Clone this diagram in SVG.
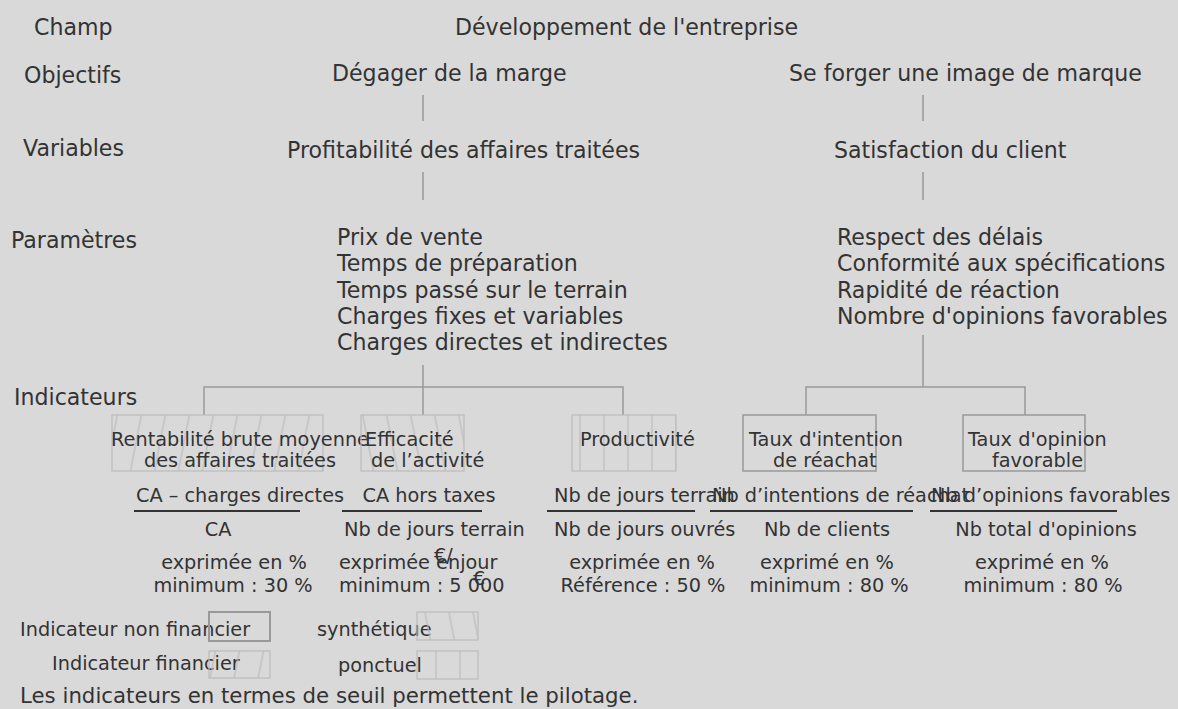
<svg xmlns="http://www.w3.org/2000/svg" width="1178" height="709" viewBox="0 0 1178 709">
<defs>
<style>
text{font-family:"DejaVu Sans","Liberation Sans",sans-serif;fill:#333}
.h{font-size:22.1px}
.s{font-size:19.3px}
.m{text-anchor:middle}
.c{stroke:#999;stroke-width:1.5;fill:none}
.f{stroke:#333;stroke-width:2}
.nf{fill:#d9d9d9;stroke:#999;stroke-width:1.5}
.hb{stroke:#bbb;stroke-width:1.2}
</style>
<pattern id="fwd" patternUnits="userSpaceOnUse" width="24" height="10" patternTransform="skewX(-11)"><line x1="6" y1="0" x2="6" y2="10" class="hb"/></pattern>
<pattern id="bck" patternUnits="userSpaceOnUse" width="24" height="10" patternTransform="skewX(11)"><line x1="18" y1="0" x2="18" y2="10" class="hb"/></pattern>
<pattern id="vrt" patternUnits="userSpaceOnUse" width="24" height="10"><line x1="4" y1="0" x2="4" y2="10" class="hb"/></pattern>
</defs>
<rect width="1178" height="709" fill="#d9d9d9"/>

<g id="labels">
<text class="h" x="34" y="35">Champ</text>
<text class="h" x="24" y="83">Objectifs</text>
<text class="h" x="23" y="156">Variables</text>
<text class="h" x="11" y="248">Paramètres</text>
<text class="h" x="14" y="405">Indicateurs</text>
</g>

<g id="connectors">
<line class="c" x1="423" y1="95" x2="423" y2="121"/>
<line class="c" x1="923" y1="95" x2="923" y2="121"/>
<line class="c" x1="423" y1="172" x2="423" y2="200"/>
<line class="c" x1="923" y1="172" x2="923" y2="200"/>
<path class="c" d="M423 365V415M204 415V387H623V415"/>
<path class="c" d="M923 335V387M806 415V387H1025V415"/>
</g>

<g id="champ"><text class="h" x="455" y="35">Développement de l'entreprise</text></g>
<g id="obj1"><text class="h" x="332" y="81">Dégager de la marge</text></g>
<g id="obj2"><text class="h" x="789" y="81">Se forger une image de marque</text></g>
<g id="var1"><text class="h" x="287" y="158">Profitabilité des affaires traitées</text></g>
<g id="var2"><text class="h" x="834" y="158">Satisfaction du client</text></g>
<g id="par1"><text class="h" x="337" y="245">Prix de vente<tspan x="337" dy="26.3">Temps de préparation</tspan><tspan x="337" dy="26.3">Temps passé sur le terrain</tspan><tspan x="337" dy="26.3">Charges fixes et variables</tspan><tspan x="337" dy="26.3">Charges directes et indirectes</tspan></text></g>
<g id="par2"><text class="h" x="837" y="245">Respect des délais<tspan x="837" dy="26.3">Conformité aux spécifications</tspan><tspan x="837" dy="26.3">Rapidité de réaction</tspan><tspan x="837" dy="26.3">Nombre d'opinions favorables</tspan></text></g>

<g id="ind1">
<rect x="112" y="415" width="211" height="56" fill="url(#fwd)" stroke="#bbb" stroke-width="1.2"/>
<text class="s m" x="240" y="446">Rentabilité brute moyenne</text>
<text class="s m" x="240" y="467">des affaires traitées</text>
<text class="s m" x="240" y="502">CA – charges directes</text>
<line class="f" x1="134" y1="511" x2="300" y2="511"/>
<text class="s m" x="218" y="536">CA</text>
<text class="s m" x="234" y="569">exprimée en %</text>
<text class="s m" x="233" y="592">minimum : 30 %</text>
</g>

<g id="ind2">
<rect x="361" y="415" width="103" height="56" fill="url(#bck)" stroke="#bbb" stroke-width="1.2"/>
<text class="s" x="365" y="446">Efficacité</text>
<text class="s" x="371" y="467">de l’activité</text>
<text class="s m" x="429" y="502">CA hors taxes</text>
<line class="f" x1="342" y1="511" x2="482" y2="511"/>
<text class="s" x="344" y="536">Nb de jours terrain</text>
<text class="s" x="339" y="569">exprimée enjour</text>
<text class="s" x="434" y="562">€/</text>
<text class="s" x="339" y="592">minimum : 5 000</text>
<text class="s" x="473" y="585">€</text>
</g>

<g id="ind3">
<rect x="572" y="415" width="104" height="56" fill="url(#vrt)" stroke="#bbb" stroke-width="1.2"/>
<text class="s" x="580" y="446">Productivité</text>
<text class="s" x="554" y="502">Nb de jours terrain</text>
<line class="f" x1="547" y1="511" x2="695" y2="511"/>
<text class="s" x="554" y="536">Nb de jours ouvrés</text>
<text class="s m" x="642" y="569">exprimée en %</text>
<text class="s m" x="643" y="592">Référence : 50 %</text>
</g>

<g id="ind4">
<rect class="nf" x="743" y="415" width="133" height="56"/>
<text class="s" x="749" y="446">Taux d'intention</text>
<text class="s" x="773" y="467">de réachat</text>
<text class="s" x="712" y="502">Nb d’intentions de réachat</text>
<line class="f" x1="710" y1="511" x2="913" y2="511"/>
<text class="s m" x="827" y="536">Nb de clients</text>
<text class="s m" x="827" y="569">exprimé en %</text>
<text class="s m" x="829" y="592">minimum : 80 %</text>
</g>

<g id="ind5">
<rect class="nf" x="963" y="415" width="122" height="56"/>
<text class="s" x="968" y="446">Taux d'opinion</text>
<text class="s" x="992" y="467">favorable</text>
<text class="s" x="931" y="502">Nb d’opinions favorables</text>
<line class="f" x1="930" y1="511" x2="1117" y2="511"/>
<text class="s m" x="1046" y="536">Nb total d'opinions</text>
<text class="s m" x="1042" y="569">exprimé en %</text>
<text class="s m" x="1043" y="592">minimum : 80 %</text>
</g>

<g id="legend">
<text class="s" x="20" y="636">Indicateur non financier</text>
<rect x="209" y="612" width="61" height="29" fill="none" stroke="#999" stroke-width="2"/>
<text class="s" x="317" y="636">synthétique</text>
<rect x="417" y="612" width="61" height="28" fill="url(#bck)" stroke="#bbb" stroke-width="1.2"/>
<text class="s" x="52" y="670">Indicateur financier</text>
<rect x="209" y="651" width="61" height="27" fill="url(#fwd)" stroke="#bbb" stroke-width="1.2"/>
<text class="s" x="338" y="672">ponctuel</text>
<rect x="417" y="651" width="61" height="28" fill="url(#vrt)" stroke="#bbb" stroke-width="1.2"/>
<text x="20" y="703" style="font-size:21.3px">Les indicateurs en termes de seuil permettent le pilotage.</text>
</g>
</svg>
